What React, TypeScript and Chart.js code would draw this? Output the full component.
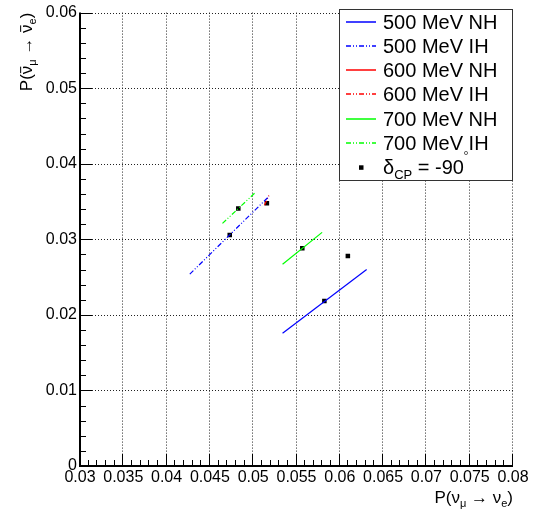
import React, { useEffect, useRef } from "react";
import { Chart, registerables } from "chart.js";

Chart.register(...registerables);

// ---- data ----
const nh500X = [0.05339, 0.0631];
const nh500Y = [0.01758, 0.026];
const ih500X = [0.04268, 0.05184];
const ih500Y = [0.0254, 0.0357];
const nh600X: number[] = [];
const nh600Y: number[] = [];
const ih600X = [0.0513, 0.0518];
const ih600Y = [0.0345, 0.0358];
const nh700X = [0.05339, 0.05796];
const nh700Y = [0.02671, 0.03092];
const ih700X = [0.04645, 0.05022];
const ih700Y = [0.0321, 0.03616];
const dcpX = [0.05822, 0.04729, 0.06093, 0.05158, 0.05567, 0.04828];
const dcpY = [0.02184, 0.03057, 0.0278, 0.03478, 0.02882, 0.03408];

const seriesLabels = ["500 MeV NH", "500 MeV IH", "600 MeV NH", "600 MeV IH", "700 MeV NH", "700 MeV IH"];
const xTickValues = [0.03, 0.035, 0.04, 0.045, 0.05, 0.055, 0.06, 0.065, 0.07, 0.075, 0.08];
const xTickLabels = ["0.03", "0.035", "0.04", "0.045", "0.05", "0.055", "0.06", "0.065", "0.07", "0.075", "0.08"];
const yTickValues = [0, 0.01, 0.02, 0.03, 0.04, 0.05, 0.06];
const yTickLabels = ["0", "0.01", "0.02", "0.03", "0.04", "0.05", "0.06"];

const FONT = "'Liberation Sans', Arial, Helvetica, sans-serif";
const BLUE = "#0000ff";
const RED = "#ff0000";
const GREEN = "#00ff00";
const DASH_IH = [5, 2, 1, 2, 1, 2];

const zip = (xs: number[], ys: number[]) => xs.map((x, i) => ({ x, y: ys[i] }));

type Part = { t: string; size: number; dy?: number; over?: boolean };

function drawRich(ctx: CanvasRenderingContext2D, parts: Part[], x: number, y: number, align: "left" | "right") {
  let total = 0;
  const widths = parts.map((p) => {
    ctx.font = `${p.size}px ${FONT}`;
    const w = ctx.measureText(p.t).width;
    total += w;
    return w;
  });
  let cx = align === "right" ? x - total : x;
  ctx.textAlign = "left";
  ctx.textBaseline = "alphabetic";
  parts.forEach((p, i) => {
    ctx.font = `${p.size}px ${FONT}`;
    ctx.fillText(p.t, cx, y + (p.dy || 0));
    if (p.over) {
      const oy = y + (p.dy || 0) - p.size * 0.55 - 2;
      ctx.beginPath();
      ctx.lineWidth = 1;
      ctx.moveTo(cx + 1, oy);
      ctx.lineTo(cx + widths[i] - 1, oy);
      ctx.stroke();
    }
    cx += widths[i];
  });
}

const framePlugin = {
  id: "rootFrame",
  beforeDatasetsDraw(chart: any) {
    const { ctx, chartArea: a, scales } = chart;
    const xs = scales.x;
    const ys = scales.y;
    ctx.save();
    ctx.strokeStyle = "#222";
    ctx.lineWidth = 1;
    ctx.setLineDash([1, 2]);
    xTickValues.slice(1).forEach((v) => {
      const px = Math.round(xs.getPixelForValue(v)) - 0.5;
      ctx.beginPath();
      ctx.moveTo(px, a.top);
      ctx.lineTo(px, a.bottom);
      ctx.stroke();
    });
    yTickValues.slice(1).forEach((v) => {
      const py = Math.round(ys.getPixelForValue(v)) + 0.5;
      ctx.beginPath();
      ctx.moveTo(a.left, py);
      ctx.lineTo(a.right, py);
      ctx.stroke();
    });
    ctx.restore();
  },
  afterDatasetsDraw(chart: any) {
    const { ctx, chartArea: a, scales } = chart;
    const xs = scales.x;
    const ys = scales.y;
    ctx.save();
    ctx.setLineDash([]);
    ctx.strokeStyle = "#000";
    // axes
    ctx.lineWidth = 2;
    ctx.beginPath();
    ctx.moveTo(a.left, a.top);
    ctx.lineTo(a.left, a.bottom);
    ctx.lineTo(a.right, a.bottom);
    ctx.stroke();
    // ticks
    ctx.lineWidth = 1;
    const xMin = xTickValues[0];
    const xMax = xTickValues[xTickValues.length - 1];
    const nX = Math.round((xMax - xMin) / 0.001);
    for (let i = 0; i <= nX; i++) {
      const px = Math.round(xs.getPixelForValue(xMin + i * 0.001)) - 0.5;
      const len = i % 5 === 0 ? 12 : 6;
      ctx.beginPath();
      ctx.moveTo(px, a.bottom);
      ctx.lineTo(px, a.bottom - len);
      ctx.stroke();
    }
    const yMin = yTickValues[0];
    const yMax = yTickValues[yTickValues.length - 1];
    const nY = Math.round((yMax - yMin) / 0.002);
    for (let i = 0; i <= nY; i++) {
      const py = Math.round(ys.getPixelForValue(yMin + i * 0.002)) + 0.5;
      const len = i % 5 === 0 ? 12 : 6;
      ctx.beginPath();
      ctx.moveTo(a.left, py);
      ctx.lineTo(a.left + len, py);
      ctx.stroke();
    }

    // axis titles
    ctx.fillStyle = "#000";
    ctx.strokeStyle = "#000";
    drawRich(
      ctx,
      [
        { t: "P(", size: 17 },
        { t: "ν", size: 17 },
        { t: "μ", size: 11, dy: 4 },
        { t: " → ", size: 17 },
        { t: "ν", size: 17 },
        { t: "e", size: 11, dy: 4 },
        { t: ")", size: 17 },
      ],
      a.right,
      503,
      "right"
    );
    ctx.save();
    ctx.translate(32, a.top);
    ctx.rotate(-Math.PI / 2);
    drawRich(
      ctx,
      [
        { t: "P(", size: 17 },
        { t: "ν", size: 17, over: true },
        { t: "μ", size: 11, dy: 4 },
        { t: " → ", size: 17 },
        { t: "ν", size: 17, over: true },
        { t: "e", size: 11, dy: 4 },
        { t: ")", size: 17 },
      ],
      0,
      0,
      "right"
    );
    ctx.restore();

    // legend
    const lx = 339.5;
    const ly = 9.5;
    const lw = 173;
    const lh = 171;
    ctx.fillStyle = "#fff";
    ctx.fillRect(lx, ly, lw, lh);
    ctx.strokeStyle = "#333";
    ctx.lineWidth = 1;
    ctx.strokeRect(lx, ly, lw, lh);
    const ds = chart.data.datasets;
    ds.forEach((d: any, i: number) => {
      const cy = 21.5 + i * 24.3;
      if (d.showLine) {
        ctx.save();
        ctx.strokeStyle = d.borderColor;
        ctx.lineWidth = 1.5;
        ctx.setLineDash(d.borderDash || []);
        ctx.beginPath();
        ctx.moveTo(346, Math.round(cy));
        ctx.lineTo(376, Math.round(cy));
        ctx.stroke();
        ctx.restore();
        ctx.fillStyle = "#000";
        drawRich(ctx, [{ t: d.label, size: 20 }], 383, cy + 7, "left");
      } else {
        ctx.fillStyle = "#000";
        ctx.fillRect(359, cy - 2, 4.5, 4.5);
        drawRich(
          ctx,
          [
            { t: "δ", size: 20 },
            { t: "CP", size: 13, dy: 5 },
            { t: " = -90", size: 20 },
          ],
          383,
          cy + 7,
          "left"
        );
      }
    });
    // stray degree marker
    ctx.strokeStyle = "#666";
    ctx.lineWidth = 1;
    ctx.beginPath();
    ctx.arc(466, 153, 1.6, 0, Math.PI * 2);
    ctx.stroke();
    ctx.restore();
  },
};

export default function App() {
  const ref = useRef<HTMLCanvasElement | null>(null);
  useEffect(() => {
    document.body.style.margin = "0";
    const canvas = ref.current;
    if (!canvas) return;
    const lineDs = (label: string, xs: number[], ys: number[], color: string, dash: number[]) => ({
      label,
      data: zip(xs, ys),
      showLine: true,
      borderColor: color,
      backgroundColor: color,
      borderWidth: 1.2,
      borderDash: dash,
      pointRadius: 0,
      pointHoverRadius: 0,
      fill: false,
    });
    const chart = new Chart(canvas, {
      type: "scatter",
      data: {
        datasets: [
          lineDs(seriesLabels[0], nh500X, nh500Y, BLUE, []),
          lineDs(seriesLabels[1], ih500X, ih500Y, BLUE, DASH_IH),
          lineDs(seriesLabels[2], nh600X, nh600Y, RED, []),
          lineDs(seriesLabels[3], ih600X, ih600Y, RED, DASH_IH),
          lineDs(seriesLabels[4], nh700X, nh700Y, GREEN, []),
          lineDs(seriesLabels[5], ih700X, ih700Y, GREEN, DASH_IH),
          {
            label: "δCP = -90",
            data: zip(dcpX, dcpY),
            showLine: false,
            pointStyle: "rect",
            pointRadius: 3.2,
            pointHoverRadius: 3.2,
            pointBackgroundColor: "#000",
            pointBorderWidth: 0,
            backgroundColor: "#000",
            borderColor: "#000",
          } as any,
        ],
      },
      options: {
        animation: false,
        responsive: false,
        devicePixelRatio: 1,
        events: [],
        layout: { padding: { left: 0, top: 10, right: 28, bottom: 0 } },
        plugins: { legend: { display: false }, tooltip: { enabled: false } },
        scales: {
          x: {
            type: "linear",
            min: xTickValues[0],
            max: xTickValues[xTickValues.length - 1],
            afterBuildTicks: (s: any) => {
              s.ticks = xTickValues.map((v) => ({ value: v }));
            },
            afterFit: (s: any) => {
              s.height = 45;
            },
            ticks: {
              autoSkip: false,
              maxRotation: 0,
              padding: 2,
              color: "#000",
              font: { family: FONT, size: 16 },
              callback: (_v: any, i: number) => xTickLabels[i],
            },
            grid: { display: false, drawTicks: false },
            border: { display: false },
          },
          y: {
            type: "linear",
            min: yTickValues[0],
            max: yTickValues[yTickValues.length - 1],
            afterBuildTicks: (s: any) => {
              s.ticks = yTickValues.map((v) => ({ value: v }));
            },
            afterFit: (s: any) => {
              s.width = 80;
            },
            ticks: {
              autoSkip: false,
              padding: 3,
              color: "#000",
              font: { family: FONT, size: 16 },
              callback: (_v: any, i: number) => yTickLabels[i],
            },
            grid: { display: false, drawTicks: false },
            border: { display: false },
          },
        },
      } as any,
      plugins: [framePlugin as any],
    });
    return () => chart.destroy();
  }, []);
  return (
    <div style={{ width: 541, height: 511, background: "#fff" }}>
      <canvas ref={ref} width={541} height={511} style={{ display: "block", width: 541, height: 511 }} />
    </div>
  );
}
